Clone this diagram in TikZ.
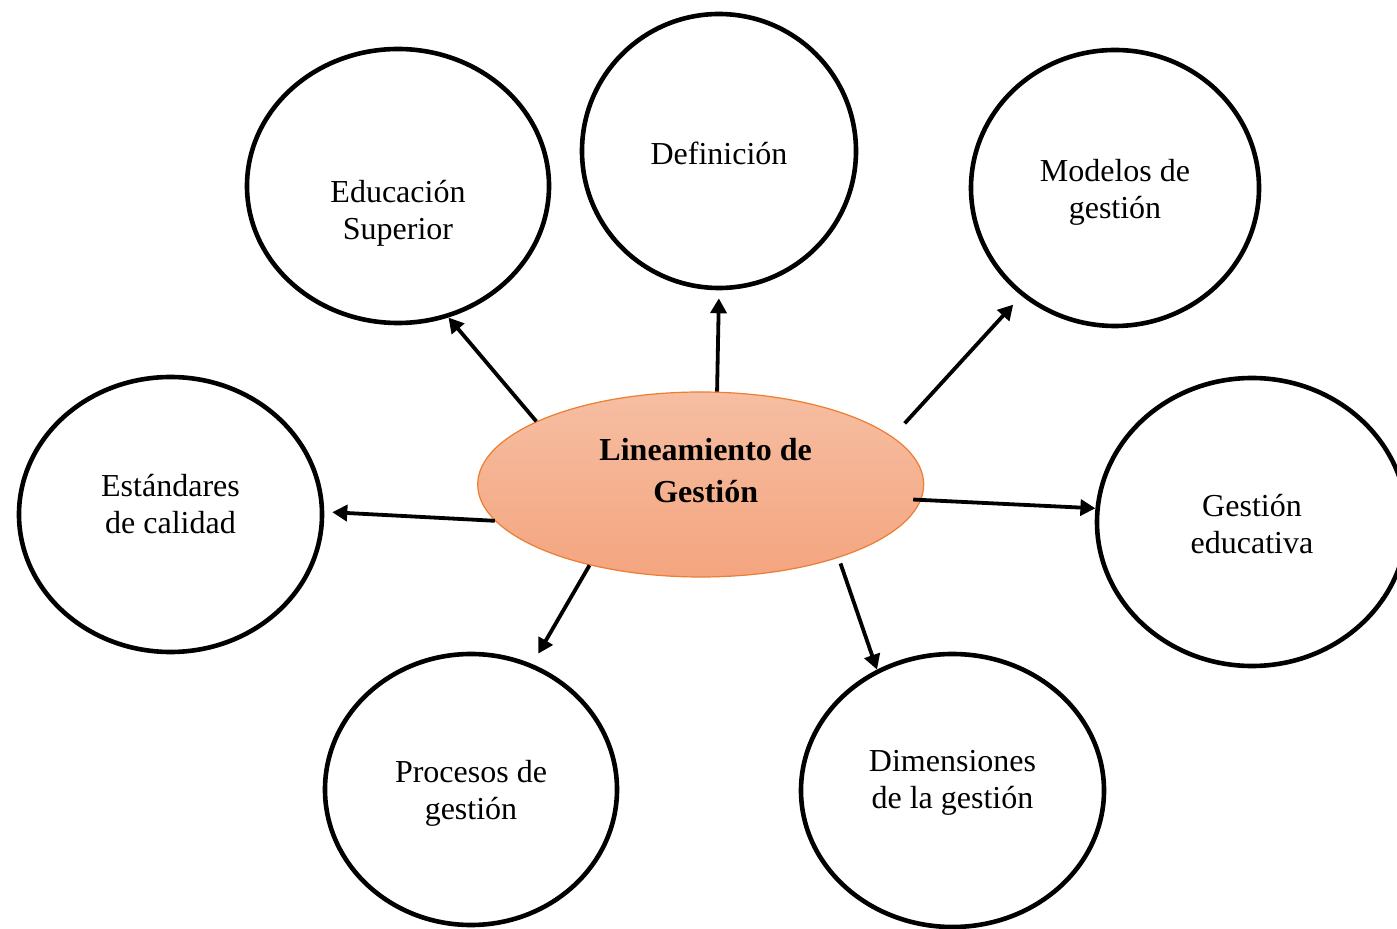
\documentclass[tikz,border=0pt]{standalone}
\usepackage{fontspec}
\setmainfont{Liberation Serif}
\usetikzlibrary{shapes.geometric,arrows.meta}
\definecolor{ovalTop}{HTML}{F6BEA2}
\definecolor{ovalBot}{HTML}{F4A57F}
\definecolor{ovalLine}{HTML}{ED7D31}
\tikzset{
  topic/.style={ellipse, draw=black, line width=2.3pt, inner sep=0pt},
  ttext/.style={align=center, font=\fontsize{16}{18.5}\selectfont},
  link/.style={line width=1.9pt, -{Triangle[length=7.5pt,width=8pt]}},
}
\begin{document}
\begin{tikzpicture}[x=0.5pt,y=-0.5pt]
\clip (0,0) rectangle (1397,929);
% central oval
\node[ellipse, draw=ovalLine, line width=0.6pt, top color=ovalTop, bottom color=ovalBot,
      minimum width=223pt, minimum height=92.5pt, inner sep=0pt] (lin) at (700.7,484.5) {};
\node[align=center, font=\bfseries\fontsize{16}{21}\selectfont] (linT)
      at ([xshift=2.5pt,yshift=7pt]lin.center) {Lineamiento de\\Gestión};
% topics
\node[topic, minimum width=151pt, minimum height=137pt] (edu) at (398,186) {};
\node[topic, minimum width=137pt, minimum height=137pt] (def) at (719,151) {};
\node[topic, minimum width=144pt, minimum height=138pt] (mod) at (1115,188) {};
\node[topic, minimum width=151.5pt, minimum height=137.5pt] (est) at (170.5,514.5) {};
\node[topic, minimum width=155pt, minimum height=144pt] (ge) at (1252,522) {};
\node[topic, minimum width=146pt, minimum height=135.5pt] (proc) at (471,789.5) {};
\node[topic, minimum width=151.5pt, minimum height=136.5pt] (dim) at (952.5,790.5) {};
% texts
\node[ttext] (eduT) at ([yshift=-13.5pt]edu.center) {Educación\\Superior};
\node[ttext] (defT) at ([yshift=-1.3pt]def.center) {Definición};
\node[ttext] (modT) at ([yshift=-2pt]mod.center) {Modelos de\\gestión};
\node[ttext] (estT) at ([yshift=5pt]est.center) {Estándares\\de calidad};
\node[ttext] (geT) at ([yshift=-0.8pt]ge.center) {Gestión\\educativa};
\node[ttext] (procT) at ([yshift=-2pt]proc.center) {Procesos de\\gestión};
\node[ttext] (dimT) at ([yshift=4pt]dim.center) {Dimensiones\\de la gestión};
% arrows
\draw[link] (lin.159) -- (edu.291);
\draw[link, shorten >=4pt] (lin.80) -- (def.270);
\draw[link, shorten <=9pt, shorten >=6pt] (lin.14) -- (mod.229);
\draw[link, shorten >=4pt] (lin.190) -- (est.1);
\draw[link, shorten <=-4pt] (lin.356) -- (ge.175);
\draw[link, shorten >=6pt] (lin.216.5) -- (proc.64);
\draw[link, shorten <=3pt] (lin.332) -- (dim.122);
\end{tikzpicture}
\end{document}
